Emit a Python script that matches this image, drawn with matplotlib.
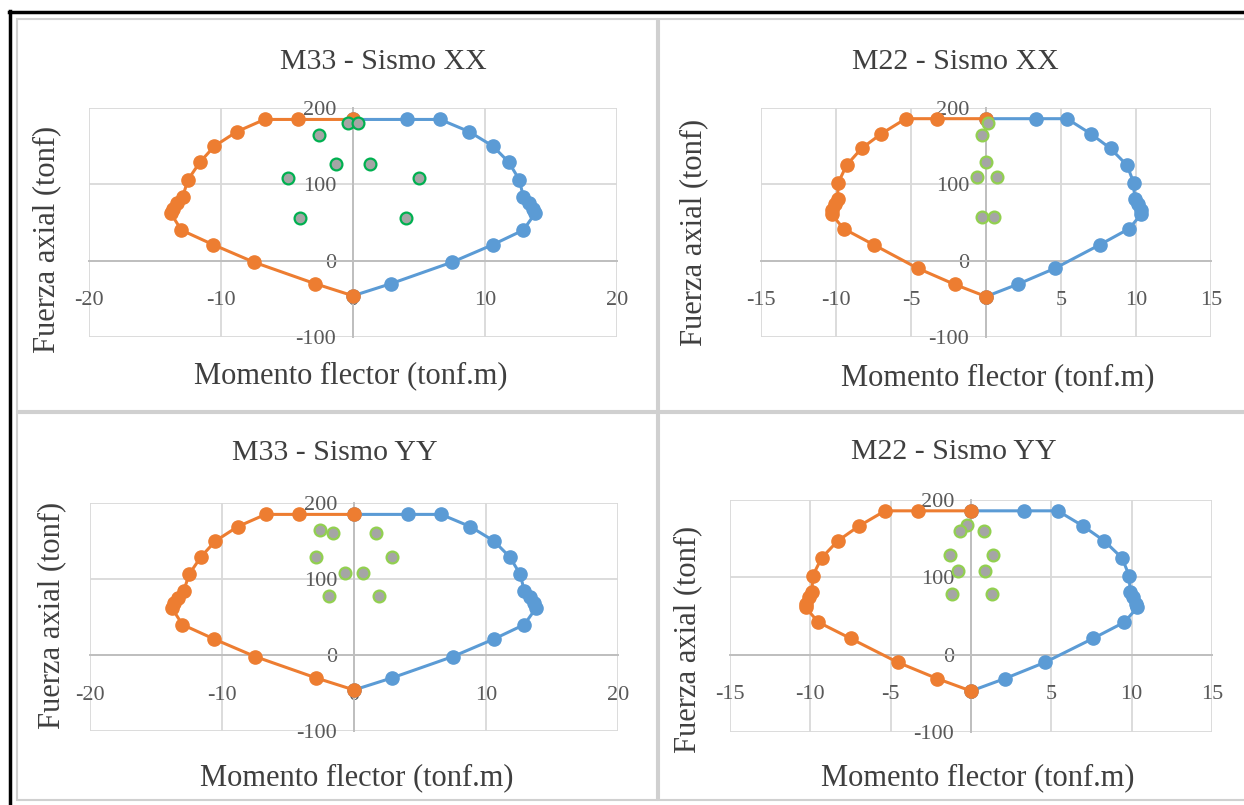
import matplotlib
matplotlib.use("Agg")
import matplotlib.pyplot as plt
from matplotlib.lines import Line2D
from matplotlib.patches import Rectangle

plt.rcParams['font.family'] = ['Liberation Serif', 'DejaVu Serif']
plt.rcParams['axes.unicode_minus'] = False

# Interaction diagram M33 (positive side in blue, negative side in orange)
m33_pos_x = [0, 2.9, 7.5, 10.6, 12.9, 13.8, 13.6, 13.3, 12.9, 12.6, 11.8, 10.6, 8.8, 6.6, 4.1, 0]
m33_pos_y = [-46, -30, -2, 21, 40, 62, 68, 76, 84, 106, 129, 150, 169, 185, 185, 185]
m33_neg_x = [0, -2.9, -7.5, -10.6, -13.0, -13.8, -13.6, -13.3, -12.9, -12.5, -11.6, -10.5, -8.8, -6.7, -4.2, 0]
m33_neg_y = [-46, -30, -2, 21, 40, 62, 68, 75, 84, 106, 129, 150, 169, 185, 185, 185]

# Interaction diagram M22
m22_pos_x = [0, 2.1, 4.6, 7.6, 9.55, 10.35, 10.3, 10.1, 9.9, 9.85, 9.4, 8.3, 7.0, 5.4, 3.3, 0]
m22_pos_y = [-47, -31, -10, 21, 42, 61, 66, 74, 81, 102, 125, 147, 166, 186, 186, 186]
m22_neg_x = [0, -2.1, -4.55, -7.5, -9.5, -10.3, -10.3, -10.1, -9.9, -9.85, -9.3, -8.3, -7.0, -5.35, -3.3, 0]
m22_neg_y = [-47, -31, -10, 21, 42, 61, 66, 74, 81, 102, 125, 147, 166, 186, 186, 186]

# Column demands (M, P)
xx_m33 = [-0.4, 0.4, -2.6, -1.3, 1.3, -4.9, 5.0, -4.0, 4.0]
xx_p33 = [180, 180, 165, 127, 127, 108, 108, 56, 56]
xx_m22 = [0.1, -0.3, 0.0, -0.6, 0.7, -0.3, 0.5]
xx_p22 = [180, 165, 129, 110, 110, 57, 57]
yy_m33 = [-2.6, -1.6, 1.7, -2.9, 2.9, -0.7, 0.7, -1.9, 1.9]
yy_p33 = [165, 160, 160, 129, 129, 108, 108, 77, 77]
yy_m22 = [-0.25, -0.7, 0.8, -1.3, 1.4, -0.8, 0.9, -1.2, 1.3]
yy_p22 = [168, 160, 160, 129, 129, 108, 108, 78, 78]

titles = ["M33 - Sismo XX", "M22 - Sismo XX", "M33 - Sismo YY", "M22 - Sismo YY"]
xlabel = "Momento flector (tonf.m)"
ylabel = "Fuerza axial (tonf)"

ORANGE = "#ed7d31"
BLUE = "#5b9bd5"
GRAY = "#a5a5a5"
GRID = "#d9d9d9"
TXT = "#3f3f3f"

W, H = 1244, 805
fig = plt.figure(figsize=(W / 100, H / 100), dpi=100)


def px(x, y):
    return x / W, 1 - y / H


def add_panel(rect, xlim, xstep, curve_pos, curve_neg, dem, edge, title, tpos, xlpos, ylpos):
    l, t, r, b = rect
    ax = fig.add_axes([l / W, 1 - b / H, (r - l) / W, (b - t) / H])
    ax.set_xlim(-xlim, xlim)
    ax.set_ylim(-100, 200)
    ax.set_xticks(range(-xlim, xlim + 1, xstep))
    ax.set_yticks([-100, 0, 100, 200])
    ax.grid(True, color=GRID, linewidth=1.3)
    for gl in ax.get_xgridlines() + ax.get_ygridlines():
        gl.set_clip_on(False)
    ax.set_axisbelow(True)
    for s in ['top', 'right']:
        ax.spines[s].set_visible(False)
    ax.spines['left'].set_position(('data', 0))
    ax.spines['bottom'].set_position(('data', 0))
    for s in ['left', 'bottom']:
        ax.spines[s].set_color("#bfbfbf")
        ax.spines[s].set_linewidth(1.4)
    ax.tick_params(axis='both', length=0, labelsize=16, labelcolor="#595959")
    ax.tick_params(axis='y', pad=12)
    ax.tick_params(axis='x', pad=22)

    ax.plot(curve_pos[0], curve_pos[1], color=BLUE, lw=2.2, marker='o',
            markersize=9.5, zorder=3, clip_on=False)
    ax.plot(curve_neg[0], curve_neg[1], color=ORANGE, lw=2.2, marker='o',
            markersize=9.5, zorder=4, clip_on=False)
    ax.plot(dem[0], dem[1], linestyle='none', marker='o', markersize=8.5,
            markerfacecolor=GRAY, markeredgecolor=edge, markeredgewidth=1.6,
            zorder=5, clip_on=False)

    fig.text(*px(*tpos), title, ha='center', va='center', fontsize=21.5, color=TXT)
    fig.text(*px(*xlpos), xlabel, ha='center', va='center', fontsize=22, color=TXT)
    fig.text(*px(*ylpos), ylabel, ha='center', va='center', fontsize=22,
             color=TXT, rotation=90)
    return ax


# Chart area frames
for (l, t, r, b) in [(17, 19, 657, 411), (659, 19, 1250, 411),
                     (17, 413, 657, 800), (659, 413, 1250, 800)]:
    fig.add_artist(Rectangle(px(l, b), (r - l) / W, (b - t) / H,
                             transform=fig.transFigure, facecolor='white',
                             edgecolor="#d0d0d0", linewidth=1.5, zorder=0))

add_panel((89, 108, 617, 337), 20, 10, (m33_pos_x, m33_pos_y), (m33_neg_x, m33_neg_y),
          (xx_m33, xx_p33), "#00b050", titles[0], (383, 62), (351, 376), (47, 239))
add_panel((761, 108, 1211, 337), 15, 5, (m22_pos_x, m22_pos_y), (m22_neg_x, m22_neg_y),
          (xx_m22, xx_p22), "#92d050", titles[1], (955, 62), (998, 378), (694, 232))
add_panel((90, 503, 618, 731), 20, 10, (m33_pos_x, m33_pos_y), (m33_neg_x, m33_neg_y),
          (yy_m33, yy_p33), "#92d050", titles[2], (335, 453), (357, 778), (52, 615))
add_panel((730, 500, 1212, 732), 15, 5, (m22_pos_x, m22_pos_y), (m22_neg_x, m22_neg_y),
          (yy_m22, yy_p22), "#92d050", titles[3], (954, 452), (978, 778), (688, 639))

# Outer black frame (left and top edges)
fig.add_artist(Line2D([10 / W, 10 / W], [0, 1 - 11 / H], transform=fig.transFigure,
                      color='black', linewidth=2.5))
fig.add_artist(Line2D([9 / W, 1], [1 - 12 / H, 1 - 12 / H], transform=fig.transFigure,
                      color='black', linewidth=2.5))

fig.savefig("out.png", dpi=100)
